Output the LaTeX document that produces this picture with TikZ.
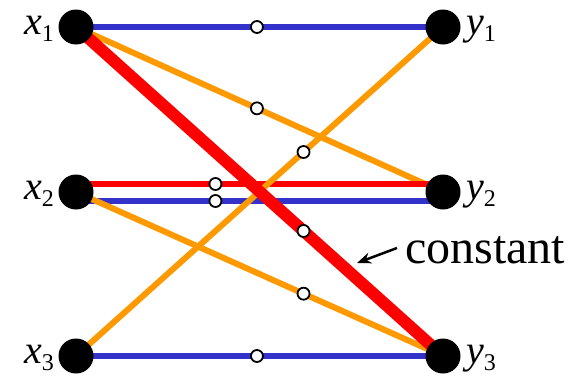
\documentclass[tikz,border=0pt]{standalone}
\usepackage{fontspec}
\setmainfont{Liberation Serif}
\usetikzlibrary{arrows.meta}
\pgfdeclarelayer{bg}
\pgfsetlayers{bg,main}
\definecolor{eblue}{RGB}{51,51,204}
\definecolor{eorange}{RGB}{255,153,0}
\definecolor{ered}{RGB}{255,0,0}
\begin{document}
\begin{tikzpicture}[x=1pt,y=-1pt,
  bigdot/.style={circle,fill=black,minimum size=35pt,inner sep=0pt},
  hole/.style={circle,draw=black,line width=1.8pt,fill=white,minimum size=12pt,inner sep=0pt},
  eb/.style={draw=eblue,line width=6pt},
  eo/.style={draw=eorange,line width=6pt},
  er/.style={draw=ered,line width=5.5pt},
  erthick/.style={draw=ered,line width=12pt},
  sub/.style={},
  lab/.style={inner sep=0pt,font=\fontsize{40}{42}\selectfont\itshape}]
\useasboundingbox (0,0) rectangle (573,375);
\node[bigdot] (x1) at (76,27) {};
\node[bigdot] (x2) at (76,192) {};
\node[bigdot] (x3) at (76,356) {};
\node[bigdot] (y1) at (443,27) {};
\node[bigdot] (y2) at (443,192) {};
\node[bigdot] (y3) at (443,356) {};
\begin{pgfonlayer}{bg}
\path[eb] (x1.center) -- node[hole,pos=0.493]{} (y1.center);
\path[eo] (x1.center) -- node[hole,pos=0.493]{} (y2.center);
\path[er] ([yshift=8pt]x2.center) -- node[hole,pos=0.38]{} ([yshift=8pt]y2.center);
\path[eb] ([yshift=-9pt]x2.center) -- node[hole,pos=0.38]{} ([yshift=-9pt]y2.center);
\path[eo] (x2.center) -- node[hole,pos=0.62]{} (y3.center);
\path[eo] (x3.center) -- node[hole,pos=0.62]{} (y1.center);
\path[eb] (x3.center) -- node[hole,pos=0.493]{} (y3.center);
\path[erthick] (x1.center) -- node[hole,pos=0.62]{} (y3.center);
\end{pgfonlayer}
\node[lab,anchor=base east] (lx1) at (54,34) {x\raisebox{-7pt}{\upshape\fontsize{24}{24}\selectfont 1}};
\node[lab,anchor=base east] (lx2) at (54,199) {x\raisebox{-7pt}{\upshape\fontsize{24}{24}\selectfont 2}};
\node[lab,anchor=base east] (lx3) at (54,363) {x\raisebox{-7pt}{\upshape\fontsize{24}{24}\selectfont 3}};
\node[lab,anchor=base west] (ly1) at (466,34) {y\raisebox{-7pt}{\upshape\fontsize{24}{24}\selectfont 1}};
\node[lab,anchor=base west] (ly2) at (466,199) {y\raisebox{-7pt}{\upshape\fontsize{24}{24}\selectfont 2}};
\node[lab,anchor=base west] (ly3) at (466,363) {y\raisebox{-7pt}{\upshape\fontsize{24}{24}\selectfont 3}};
\node[inner sep=0pt,anchor=base west,font=\fontsize{48}{50}\selectfont] (c) at (405,263) {constant};
\coordinate (tail) at (397,248);
\coordinate (tip) at (357,263);
\draw[line width=2.5pt,-{Stealth[length=14pt,width=11pt]}] (tail) -- (tip);
\end{tikzpicture}
\end{document}
